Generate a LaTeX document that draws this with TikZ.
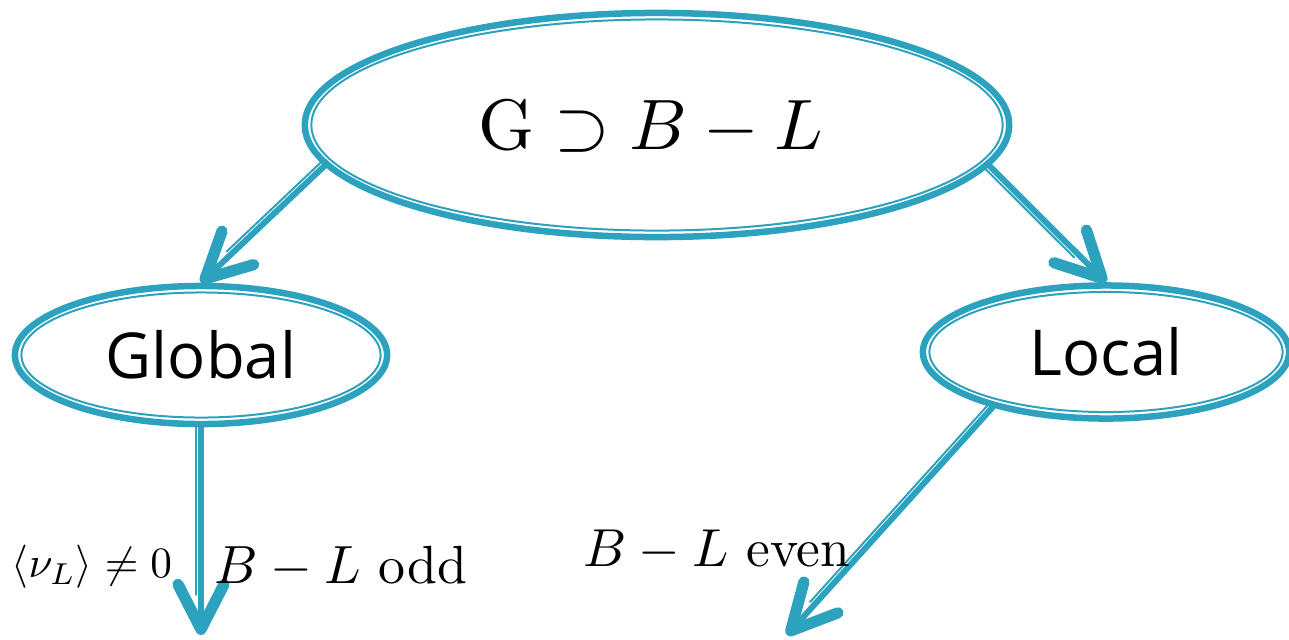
\documentclass[tikz,border=0pt]{standalone}
\usepackage{fontspec}
\newfontfamily\nodefont{Open Sans}
\usepackage{tikz}
\usetikzlibrary{arrows.meta,calc,shapes.geometric}
\definecolor{ringblue}{RGB}{44,162,191}

\begin{document}
\begin{tikzpicture}[x=0.01cm,y=-0.01cm,line cap=round,
  ring/.style={ellipse,draw=ringblue,line width=0.065cm,inner sep=0pt},
  ringin/.style={draw=ringblue,line width=0.02cm},
  link/.style={draw=ringblue,line width=0.06cm,-{Straight Barb[length=4.5mm,width=4.6mm,line width=3.2pt,round]}},
  linkin/.style={draw=ringblue,line width=0.02cm,shorten >=4mm},
  lbl/.style={inner sep=0pt}]
\useasboundingbox (0,0) rectangle (1289,639);
% ellipses
\node[ring,minimum width=7.04cm,minimum height=2.24cm] (top) at (657,125) {};
\node[lbl,scale=2.03] (toplbl) at (651,127) {$\mathrm{G}\supset B-L$};
\node[ring,minimum width=3.72cm,minimum height=1.38cm] (global) at (201,355) {\fontsize{18}{22}\selectfont\nodefont Global};
\node[ring,minimum width=3.66cm,minimum height=1.33cm] (local) at (1106,352) {\fontsize{18}{22}\selectfont\nodefont Local};
\draw[ringin] (top.center) ellipse [x radius=3.455cm,y radius=1.055cm];
\draw[ringin] (global.center) ellipse [x radius=1.795cm,y radius=0.625cm];
\draw[ringin] (local.center) ellipse [x radius=1.765cm,y radius=0.60cm];
% end points
\coordinate (odd) at (201,635);
\coordinate (even) at (787,635);
% arrows
\draw[link] (top.187) -- (global.north);
\draw[linkin] ($(top.187)!0.05cm!-90:(global.north)$) -- ($(global.north)!0.05cm!90:(top.187)$);
\draw[link] (top.-7) -- (local.north);
\draw[linkin] ($(top.-7)!0.05cm!-90:(local.north)$) -- ($(local.north)!0.05cm!90:(top.-7)$);
\draw[link] (global.south) -- (odd);
\draw[linkin] ($(global.south)!0.05cm!-90:(odd)$) -- ($(odd)!0.05cm!90:(global.south)$);
\draw[link] (local.206) -- (even);
\draw[linkin] ($(local.206)!0.05cm!-90:(even)$) -- ($(even)!0.05cm!90:(local.206)$);
% labels
\node[lbl,scale=1.23] (vev) at (92,567) {$\langle\nu_L\rangle\neq0$};
\node[lbl,scale=1.53] (oddlbl) at (341,567) {$B-L$ odd};
\node[lbl,scale=1.52] (evenlbl) at (717,550) {$B-L$ even};
\end{tikzpicture}
\end{document}
